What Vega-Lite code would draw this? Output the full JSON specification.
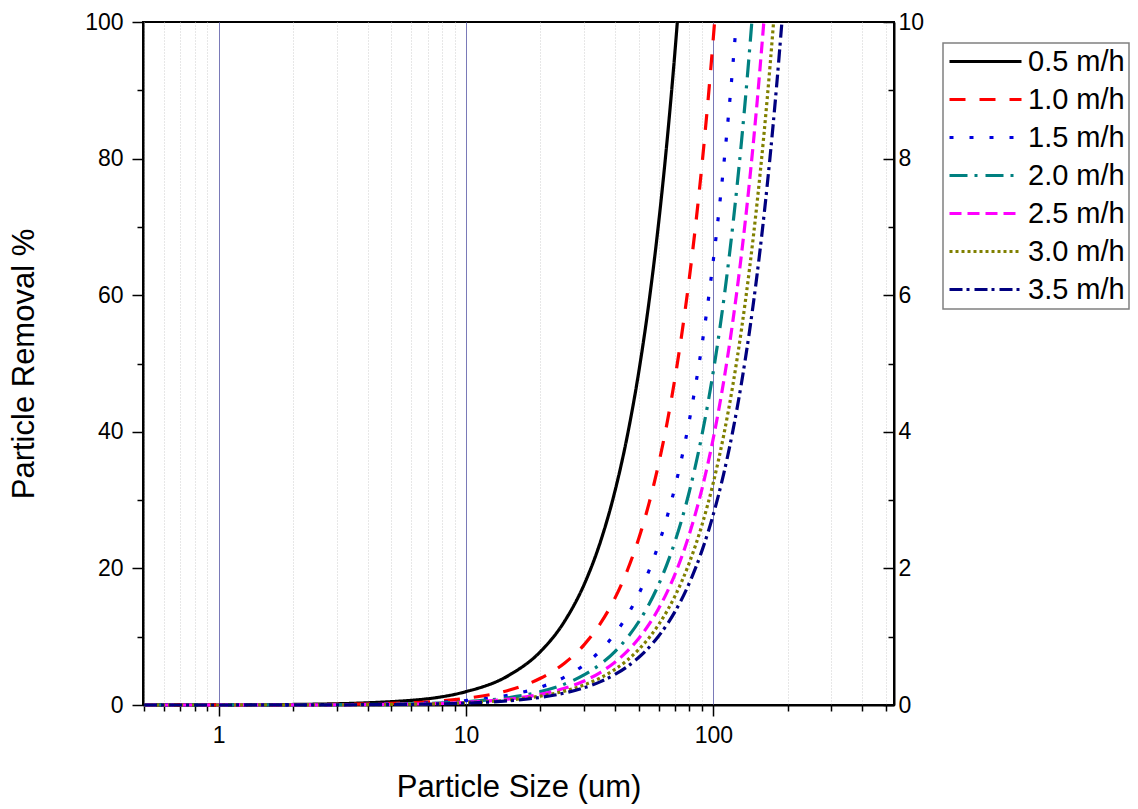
{
  "$schema": "https://vega.github.io/schema/vega-lite/v6.json",
  "autosize": "none",
  "width": 751,
  "height": 683,
  "padding": {"left": 143, "top": 22, "right": 244, "bottom": 104},
  "background": "white",
  "config": {
    "view": {"stroke": "#000", "strokeWidth": 2},
    "font": "Liberation Sans",
    "axis": {"labelFont": "Liberation Sans", "titleFont": "Liberation Sans", "labelColor": "#000", "titleColor": "#000", "titleFontWeight": "normal", "domainColor": "#000", "domainWidth": 2, "tickColor": "#000", "tickWidth": 1.5},
    "legend": {
      "orient": "none", "legendX": 800, "legendY": 21,
      "strokeColor": "#808080", "strokeWidth": 1.5, "fillColor": "white", "padding": 4,
      "symbolType": "M -3 0 H 3", "symbolSize": 576, "symbolStrokeWidth": 3, "symbolOffset": 24,
      "labelOffset": 28, "labelFont": "Liberation Sans", "labelFontSize": 29, "labelColor": "#000",
      "rowPadding": 8, "symbolLimit": 0
    }
  },
  "datasets": {
    "curves": [
      {"s":"0.5 m/h","d":0.5,"r":0.0049},{"s":"0.5 m/h","d":1,"r":0.0196},{"s":"0.5 m/h","d":2,"r":0.0782},{"s":"0.5 m/h","d":5,"r":0.489},{"s":"0.5 m/h","d":10,"r":1.956},{"s":"0.5 m/h","d":15,"r":4.401},{"s":"0.5 m/h","d":20,"r":7.824},{"s":"0.5 m/h","d":25,"r":12.226},{"s":"0.5 m/h","d":30,"r":17.605},{"s":"0.5 m/h","d":35,"r":23.962},{"s":"0.5 m/h","d":40,"r":31.298},{"s":"0.5 m/h","d":45,"r":39.611},{"s":"0.5 m/h","d":50,"r":48.903},{"s":"0.5 m/h","d":55,"r":59.172},{"s":"0.5 m/h","d":60,"r":70.42},{"s":"0.5 m/h","d":65,"r":82.645},{"s":"0.5 m/h","d":70,"r":95.849},{"s":"0.5 m/h","d":71.5,"r":100},
      {"s":"1.0 m/h","d":0.5,"r":0.0024},{"s":"1.0 m/h","d":1,"r":0.0098},{"s":"1.0 m/h","d":2,"r":0.0391},{"s":"1.0 m/h","d":5,"r":0.245},{"s":"1.0 m/h","d":10,"r":0.978},{"s":"1.0 m/h","d":15,"r":2.201},{"s":"1.0 m/h","d":20,"r":3.912},{"s":"1.0 m/h","d":25,"r":6.113},{"s":"1.0 m/h","d":30,"r":8.802},{"s":"1.0 m/h","d":35,"r":11.981},{"s":"1.0 m/h","d":40,"r":15.649},{"s":"1.0 m/h","d":45,"r":19.805},{"s":"1.0 m/h","d":50,"r":24.451},{"s":"1.0 m/h","d":55,"r":29.586},{"s":"1.0 m/h","d":60,"r":35.21},{"s":"1.0 m/h","d":65,"r":41.323},{"s":"1.0 m/h","d":70,"r":47.924},{"s":"1.0 m/h","d":75,"r":55.015},{"s":"1.0 m/h","d":80,"r":62.595},{"s":"1.0 m/h","d":85,"r":70.664},{"s":"1.0 m/h","d":90,"r":79.222},{"s":"1.0 m/h","d":95,"r":88.269},{"s":"1.0 m/h","d":100,"r":97.805},{"s":"1.0 m/h","d":101.1,"r":100},
      {"s":"1.5 m/h","d":0.5,"r":0.0016},{"s":"1.5 m/h","d":1,"r":0.0065},{"s":"1.5 m/h","d":2,"r":0.0261},{"s":"1.5 m/h","d":5,"r":0.163},{"s":"1.5 m/h","d":10,"r":0.652},{"s":"1.5 m/h","d":15,"r":1.467},{"s":"1.5 m/h","d":20,"r":2.608},{"s":"1.5 m/h","d":25,"r":4.075},{"s":"1.5 m/h","d":30,"r":5.868},{"s":"1.5 m/h","d":35,"r":7.987},{"s":"1.5 m/h","d":40,"r":10.432},{"s":"1.5 m/h","d":45,"r":13.204},{"s":"1.5 m/h","d":50,"r":16.301},{"s":"1.5 m/h","d":55,"r":19.724},{"s":"1.5 m/h","d":60,"r":23.473},{"s":"1.5 m/h","d":65,"r":27.548},{"s":"1.5 m/h","d":70,"r":31.949},{"s":"1.5 m/h","d":80,"r":41.73},{"s":"1.5 m/h","d":90,"r":52.814},{"s":"1.5 m/h","d":100,"r":65.203},{"s":"1.5 m/h","d":110,"r":78.896},{"s":"1.5 m/h","d":120,"r":93.892},{"s":"1.5 m/h","d":123.8,"r":100},
      {"s":"2.0 m/h","d":0.5,"r":0.0012},{"s":"2.0 m/h","d":1,"r":0.0049},{"s":"2.0 m/h","d":2,"r":0.0196},{"s":"2.0 m/h","d":5,"r":0.122},{"s":"2.0 m/h","d":10,"r":0.489},{"s":"2.0 m/h","d":15,"r":1.1},{"s":"2.0 m/h","d":20,"r":1.956},{"s":"2.0 m/h","d":25,"r":3.056},{"s":"2.0 m/h","d":30,"r":4.401},{"s":"2.0 m/h","d":35,"r":5.991},{"s":"2.0 m/h","d":40,"r":7.824},{"s":"2.0 m/h","d":45,"r":9.903},{"s":"2.0 m/h","d":50,"r":12.226},{"s":"2.0 m/h","d":55,"r":14.793},{"s":"2.0 m/h","d":60,"r":17.605},{"s":"2.0 m/h","d":65,"r":20.662},{"s":"2.0 m/h","d":70,"r":23.962},{"s":"2.0 m/h","d":80,"r":31.298},{"s":"2.0 m/h","d":90,"r":39.611},{"s":"2.0 m/h","d":100,"r":48.903},{"s":"2.0 m/h","d":110,"r":59.173},{"s":"2.0 m/h","d":120,"r":70.42},{"s":"2.0 m/h","d":130,"r":82.646},{"s":"2.0 m/h","d":140,"r":95.85},{"s":"2.0 m/h","d":143,"r":100},
      {"s":"2.5 m/h","d":0.5,"r":0.001},{"s":"2.5 m/h","d":1,"r":0.0039},{"s":"2.5 m/h","d":2,"r":0.0156},{"s":"2.5 m/h","d":5,"r":0.098},{"s":"2.5 m/h","d":10,"r":0.391},{"s":"2.5 m/h","d":15,"r":0.88},{"s":"2.5 m/h","d":20,"r":1.565},{"s":"2.5 m/h","d":25,"r":2.445},{"s":"2.5 m/h","d":30,"r":3.521},{"s":"2.5 m/h","d":35,"r":4.792},{"s":"2.5 m/h","d":40,"r":6.26},{"s":"2.5 m/h","d":45,"r":7.922},{"s":"2.5 m/h","d":50,"r":9.781},{"s":"2.5 m/h","d":55,"r":11.834},{"s":"2.5 m/h","d":60,"r":14.084},{"s":"2.5 m/h","d":65,"r":16.529},{"s":"2.5 m/h","d":70,"r":19.17},{"s":"2.5 m/h","d":80,"r":25.038},{"s":"2.5 m/h","d":90,"r":31.689},{"s":"2.5 m/h","d":100,"r":39.122},{"s":"2.5 m/h","d":110,"r":47.338},{"s":"2.5 m/h","d":120,"r":56.336},{"s":"2.5 m/h","d":130,"r":66.116},{"s":"2.5 m/h","d":140,"r":76.679},{"s":"2.5 m/h","d":150,"r":88.025},{"s":"2.5 m/h","d":159.9,"r":100},
      {"s":"3.0 m/h","d":0.5,"r":0.0008},{"s":"3.0 m/h","d":1,"r":0.0033},{"s":"3.0 m/h","d":2,"r":0.013},{"s":"3.0 m/h","d":5,"r":0.0815},{"s":"3.0 m/h","d":10,"r":0.326},{"s":"3.0 m/h","d":15,"r":0.734},{"s":"3.0 m/h","d":20,"r":1.304},{"s":"3.0 m/h","d":25,"r":2.038},{"s":"3.0 m/h","d":30,"r":2.934},{"s":"3.0 m/h","d":35,"r":3.994},{"s":"3.0 m/h","d":40,"r":5.216},{"s":"3.0 m/h","d":45,"r":6.602},{"s":"3.0 m/h","d":50,"r":8.151},{"s":"3.0 m/h","d":55,"r":9.862},{"s":"3.0 m/h","d":60,"r":11.737},{"s":"3.0 m/h","d":65,"r":13.774},{"s":"3.0 m/h","d":70,"r":15.975},{"s":"3.0 m/h","d":80,"r":20.865},{"s":"3.0 m/h","d":90,"r":26.408},{"s":"3.0 m/h","d":100,"r":32.602},{"s":"3.0 m/h","d":110,"r":39.448},{"s":"3.0 m/h","d":120,"r":46.947},{"s":"3.0 m/h","d":130,"r":55.097},{"s":"3.0 m/h","d":140,"r":63.9},{"s":"3.0 m/h","d":150,"r":73.355},{"s":"3.0 m/h","d":160,"r":83.461},{"s":"3.0 m/h","d":170,"r":94.22},{"s":"3.0 m/h","d":175.1,"r":100},
      {"s":"3.5 m/h","d":0.5,"r":0.0007},{"s":"3.5 m/h","d":1,"r":0.0028},{"s":"3.5 m/h","d":2,"r":0.0112},{"s":"3.5 m/h","d":5,"r":0.0699},{"s":"3.5 m/h","d":10,"r":0.279},{"s":"3.5 m/h","d":15,"r":0.629},{"s":"3.5 m/h","d":20,"r":1.118},{"s":"3.5 m/h","d":25,"r":1.747},{"s":"3.5 m/h","d":30,"r":2.515},{"s":"3.5 m/h","d":35,"r":3.423},{"s":"3.5 m/h","d":40,"r":4.471},{"s":"3.5 m/h","d":45,"r":5.659},{"s":"3.5 m/h","d":50,"r":6.986},{"s":"3.5 m/h","d":55,"r":8.453},{"s":"3.5 m/h","d":60,"r":10.06},{"s":"3.5 m/h","d":65,"r":11.806},{"s":"3.5 m/h","d":70,"r":13.693},{"s":"3.5 m/h","d":80,"r":17.884},{"s":"3.5 m/h","d":90,"r":22.635},{"s":"3.5 m/h","d":100,"r":27.944},{"s":"3.5 m/h","d":110,"r":33.812},{"s":"3.5 m/h","d":120,"r":40.239},{"s":"3.5 m/h","d":130,"r":47.225},{"s":"3.5 m/h","d":140,"r":54.77},{"s":"3.5 m/h","d":150,"r":62.874},{"s":"3.5 m/h","d":160,"r":71.537},{"s":"3.5 m/h","d":170,"r":80.758},{"s":"3.5 m/h","d":180,"r":90.538},{"s":"3.5 m/h","d":189.2,"r":100}
    ]
  },
  "data": {"name": "curves"},
  "layer": [
    {
      "mark": {"type": "line", "strokeWidth": 3.2, "interpolate": "monotone"},
      "encoding": {
        "x": {
          "field": "d", "type": "quantitative",
          "scale": {"type": "log", "domain": [0.495, 537], "nice": false},
          "axis": {
            "title": "Particle Size (um)", "titleFontSize": 31, "titlePadding": 25,
            "values": [0.5,0.6,0.7,0.8,0.9,1,2,3,4,5,6,7,8,9,10,20,30,40,50,60,70,80,90,100,200,300,400,500],
            "labelExpr": "(datum.value == 1 || datum.value == 10 || datum.value == 100) ? format(datum.value, 'd') : ''",
            "labelFontSize": 23, "labelPadding": 8, "labelFlush": false, "labelOverlap": false,
            "tickSize": {"condition": {"test": "datum.value == 1 || datum.value == 10 || datum.value == 100", "value": 11}, "value": 6},
            "grid": true,
            "gridColor": {"condition": {"test": "datum.value == 1 || datum.value == 10 || datum.value == 100", "value": "#7a7ab8"}, "value": "#cfcfcf"},
            "gridDash": {"condition": {"test": "datum.value == 1 || datum.value == 10 || datum.value == 100", "value": []}, "value": [1, 2]},
            "gridWidth": 1
          }
        },
        "y": {
          "field": "r", "type": "quantitative",
          "scale": {"domain": [0, 100], "nice": false},
          "axis": {
            "title": "Particle Removal %", "titleFontSize": 31, "titlePadding": 44,
            "values": [0,10,20,30,40,50,60,70,80,90,100],
            "labelExpr": "datum.value % 20 == 0 ? format(datum.value, 'd') : ''",
            "labelFontSize": 23, "labelPadding": 9, "labelFlush": false, "labelOverlap": false,
            "tickSize": {"condition": {"test": "datum.value % 20 == 0", "value": 11}, "value": 6},
            "grid": false
          }
        },
        "color": {
          "field": "s", "type": "nominal", "title": null,
          "scale": {"domain": ["0.5 m/h","1.0 m/h","1.5 m/h","2.0 m/h","2.5 m/h","3.0 m/h","3.5 m/h"], "range": ["#000000","#ff0000","#0000e0","#008080","#ff00ff","#808000","#000080"]}
        },
        "strokeDash": {
          "field": "s", "type": "nominal", "title": null,
          "scale": {"domain": ["0.5 m/h","1.0 m/h","1.5 m/h","2.0 m/h","2.5 m/h","3.0 m/h","3.5 m/h"], "range": [[1,0],[16,14],[4,16],[18,7,3,8],[12,6],[3,3],[13,4,3,5]]}
        }
      }
    },
    {
      "mark": {"type": "point", "opacity": 0},
      "encoding": {
        "x": {"field": "d", "type": "quantitative", "scale": {"type": "log", "domain": [0.495, 537], "nice": false}, "axis": null},
        "y": {
          "field": "r", "type": "quantitative",
          "scale": {"domain": [0, 100], "nice": false},
          "axis": {
            "orient": "right", "title": null,
            "values": [0,10,20,30,40,50,60,70,80,90,100],
            "labelExpr": "datum.value % 20 == 0 ? format(datum.value / 10, 'd') : ''",
            "labelFontSize": 23, "labelPadding": 15, "labelFlush": false, "labelOverlap": false,
            "tickSize": {"condition": {"test": "datum.value % 20 == 0", "value": -11}, "value": -6},
            "grid": false
          }
        }
      }
    }
  ],
  "resolve": {"axis": {"y": "independent", "x": "independent"}}
}
